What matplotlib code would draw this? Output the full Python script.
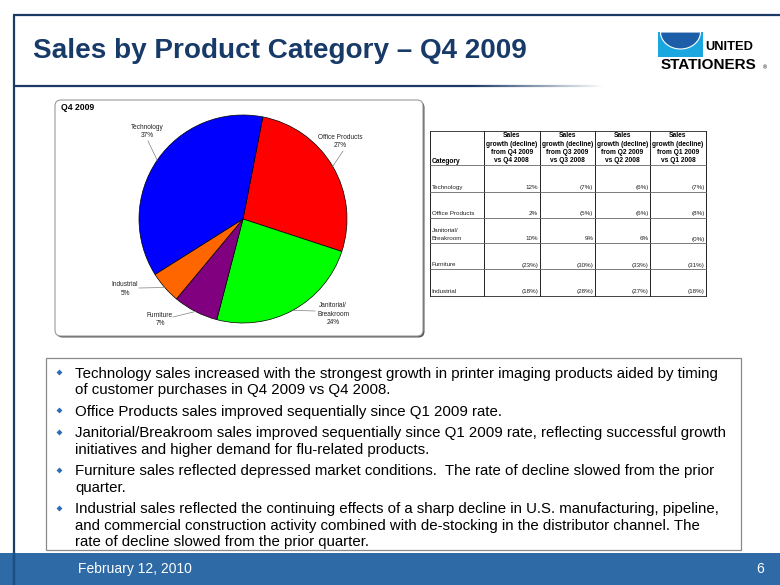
import numpy as np
import matplotlib
matplotlib.use("Agg")
import matplotlib.pyplot as plt
from matplotlib.patches import Rectangle, FancyBboxPatch, Polygon
from matplotlib import font_manager

plt.rcParams['font.family'] = ['Liberation Sans', 'DejaVu Sans']

# ---------------- data ----------------
title = "Sales by Product Category – Q4 2009"
pie_title = "Q4 2009"
categories = ["Technology", "Office Products", "Janitorial/\nBreakroom", "Furniture", "Industrial"]
share_pct = [37, 27, 24, 7, 5]
slice_colors = ["#0000FF", "#FF0000", "#00FF00", "#800080", "#FF6600"]
pie_order = [1, 2, 3, 4, 0]          # clockwise drawing order in the pie

table_corner = "Category"
column_headers = [
    "Sales\ngrowth (decline)\nfrom Q4 2009\nvs Q4 2008",
    "Sales\ngrowth (decline)\nfrom Q3 2009\nvs Q3 2008",
    "Sales\ngrowth (decline)\nfrom Q2 2009\nvs Q2 2008",
    "Sales\ngrowth (decline)\nfrom Q1 2009\nvs Q1 2008",
]
growth_q4 = [12, 2, 10, -23, -18]
growth_q3 = [-7, -5, 9, -30, -28]
growth_q2 = [-6, -6, 6, -33, -27]
growth_q1 = [-7, -8, -0.0, -31, -18]

bullets = [
    ["Technology sales increased with the strongest growth in printer imaging products aided by timing",
     "of customer purchases in Q4 2009 vs Q4 2008."],
    ["Office Products sales improved sequentially since Q1 2009 rate."],
    ["Janitorial/Breakroom sales improved sequentially since Q1 2009 rate, reflecting successful growth",
     "initiatives and higher demand for flu-related products."],
    ["Furniture sales reflected depressed market conditions.  The rate of decline slowed from the prior",
     "quarter."],
    ["Industrial sales reflected the continuing effects of a sharp decline in U.S. manufacturing, pipeline,",
     "and commercial construction activity combined with de-stocking in the distributor channel. The",
     "rate of decline slowed from the prior quarter."],
]
footer_date = "February 12, 2010"
page_number = "6"
logo_top = "UNITED"
logo_bottom = "STATIONERS"

# ---------------- layout ----------------
W, H = 780, 585
NAVY = "#1b3a66"
fig = plt.figure(figsize=(W / 100, H / 100), dpi=100)
ax = fig.add_axes([0, 0, 1, 1])


def Y(y):
    return H - y


def fmt(v):
    if v < 0 or np.signbit(v):
        return f"({abs(v):.0f}%)"
    return f"{v:.0f}%"


# pie (drawn first; limits reset afterwards)
pie_cx, pie_cy, pie_r = 243, 219, 104
vals = [share_pct[i] for i in pie_order]
cols = [slice_colors[i] for i in pie_order]
wedges, _ = ax.pie(vals, colors=cols, startangle=79, counterclock=False,
                   center=(pie_cx, Y(pie_cy)), radius=pie_r,
                   wedgeprops=dict(edgecolor="#000000", linewidth=0.5, zorder=5))

ax.set_xlim(0, W)
ax.set_ylim(0, H)
ax.set_aspect("auto")
ax.axis("off")

# frame lines
ax.plot([13, W], [Y(15), Y(15)], color=NAVY, lw=1.6, solid_capstyle="butt", zorder=2)
ax.plot([14, 14], [Y(15), 0], color=NAVY, lw=1.6, solid_capstyle="butt", zorder=4)

# title
ax.text(33, Y(51), title, fontsize=20.1, fontweight="bold", color="#173a68",
        ha="left", va="center", zorder=3)

# title underline with fade
ax.plot([14, 470], [Y(86), Y(86)], color=NAVY, lw=1.6, solid_capstyle="butt", zorder=2)
rgb = np.array(matplotlib.colors.to_rgb(NAVY))
xs = np.linspace(470, 605, 55)
for a, b, al in zip(xs[:-1], xs[1:], np.linspace(1, 0, len(xs) - 1)):
    ax.plot([a, b], [Y(86), Y(86)], color=rgb * (al) + (1 - al), lw=1.6,
            solid_capstyle="butt", zorder=2)

# logo
ax.add_patch(Rectangle((658, Y(57)), 45, 25, facecolor="#1aa6df", edgecolor="none", zorder=3))
t = np.linspace(np.pi, 2 * np.pi, 60)
bx = 680.5 + 20 * np.cos(t)
by = Y(32) + 17 * np.sin(t)
ax.add_patch(Polygon(np.column_stack([bx, by]), closed=True, facecolor="#1c5ea8",
                     edgecolor="white", lw=0.8, zorder=4))
names = {f.name for f in font_manager.fontManager.ttflist}
if "Liberation Sans Narrow" in names:
    ax.text(729, Y(47.5), logo_top, fontsize=11.3, fontweight="bold",
            family="Liberation Sans Narrow", ha="center", va="center", color="black", zorder=4)
else:
    ax.text(729, Y(47.5), logo_top, fontsize=9.3, fontweight="bold",
            ha="center", va="center", color="black", zorder=4)
ax.text(708, Y(65), logo_bottom, fontsize=11, fontweight="bold", ha="center",
        va="center", color="black", zorder=4)
ax.text(765, Y(68), "®", fontsize=4, ha="center", va="center", color="black", zorder=4)

# chart box
ax.add_patch(FancyBboxPatch((56.5, Y(337.5)), 368, 236, boxstyle="round,pad=0,rounding_size=6",
                            facecolor="#555555", edgecolor="none", zorder=1))
ax.add_patch(FancyBboxPatch((55, Y(336)), 368, 236, boxstyle="round,pad=0,rounding_size=6",
                            facecolor="white", edgecolor="#9a9a9a", lw=0.8, zorder=1.5))
ax.text(61, Y(108), pie_title, fontsize=6.2, fontweight="bold", ha="left", va="center",
        color="black", zorder=6)

# pie labels with leader lines
label_pos = {0: (147.7, 131.5), 1: (340, 141.7), 2: (333.3, 314),
             3: (160, 319.5), 4: (125, 289)}
label_anchor = {0: (148, 141), 1: (343, 151), 2: (315, 311),
                3: (173, 317), 4: (139, 288)}
for w, ci in zip(wedges, pie_order):
    mid = np.deg2rad((w.theta1 + w.theta2) / 2)
    ex = pie_cx + pie_r * np.cos(mid)
    ey = Y(pie_cy) + pie_r * np.sin(mid)
    axx, ayy = label_anchor[ci]
    ax.plot([axx, ex], [Y(ayy), ey], color="#808080", lw=0.5, zorder=6)
    lx, ly = label_pos[ci]
    ax.text(lx, Y(ly), f"{categories[ci]}\n{share_pct[ci]}%", fontsize=4.7,
            ha="center", va="center", color="#222222", linespacing=1.25, zorder=7)

# table
col_x = [430, 484, 539.5, 595, 650, 706]
row_y = [131, 165.3, 191.7, 217.7, 243.3, 269.3, 295.7]
for x in col_x:
    ax.plot([x, x], [Y(row_y[0]), Y(row_y[-1])], color="#222222", lw=0.7, zorder=3)
for i, y in enumerate(row_y):
    c = "#222222" if i in (0, len(row_y) - 1) else "#666666"
    ax.plot([col_x[0], col_x[-1]], [Y(y), Y(y)], color=c, lw=0.6, zorder=3)

ax.text(col_x[0] + 2, Y(row_y[1] - 3.6), table_corner, fontsize=4.8, fontweight="bold",
        ha="left", va="center", zorder=4)
for j, hdr in enumerate(column_headers):
    lines = hdr.split("\n")
    cx = (col_x[j + 1] + col_x[j + 2]) / 2
    for k, line in enumerate(reversed(lines)):
        ax.text(cx, Y(row_y[1] - 4.6 - 8.3 * k), line, fontsize=4.8, fontweight="bold",
                ha="center", va="center", zorder=4)

growth = [growth_q4, growth_q3, growth_q2, growth_q1]
for i, cat in enumerate(categories):
    yb = row_y[i + 2] - 4.3
    lines = cat.split("\n")
    for k, line in enumerate(reversed(lines)):
        ax.text(col_x[0] + 1.5, Y(yb - 8.3 * k), line, fontsize=4.5, ha="left", va="center",
                color="#222222", zorder=4)
    for j in range(4):
        ax.text(col_x[j + 2] - 1.5, Y(yb), fmt(growth[j][i]), fontsize=4.5, ha="right",
                va="center", color="#222222", zorder=4)

# text box
ax.add_patch(Rectangle((45.5, Y(550)), 695.5, 192, facecolor="white", edgecolor="#8a8a8a",
                       lw=0.9, zorder=2))
y_c = 373
line_gap, bullet_gap = 16.2, 21.8
for b in bullets:
    ax.plot(58.5, Y(y_c - 1), marker="D", ms=3.0, color="#2e6db4", mec="none", zorder=4)
    for k, line in enumerate(b):
        ax.text(75, Y(y_c + 4.6), line, fontsize=10.8, ha="left", va="baseline",
                color="black", zorder=4)
        if k < len(b) - 1:
            y_c += line_gap
    y_c += bullet_gap

# footer
ax.add_patch(Rectangle((0, 0), W, Y(553), facecolor="#2d6aa6", edgecolor="none", zorder=3))
ax.plot([14, 14], [0, Y(553)], color="#1d4f86", lw=1.6, zorder=4)
ax.text(78, Y(569), footer_date, fontsize=10, color="white", ha="left", va="center", zorder=5)
ax.text(760, Y(569), page_number, fontsize=10, color="white", ha="center", va="center", zorder=5)

fig.savefig("out.png", dpi=100)
